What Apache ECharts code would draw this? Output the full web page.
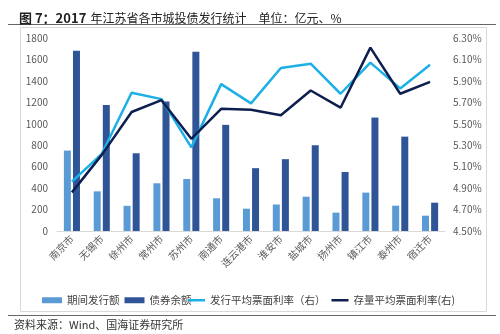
<!DOCTYPE html>
<html>
<head>
<meta charset="utf-8">
<script src="https://cdn.jsdelivr.net/npm/echarts@6/dist/echarts.min.js"></script>
<style>
  html, body { margin: 0; padding: 0; background: #fff; }
  #chart { width: 500px; height: 334px; }
</style>
</head>
<body>
<div id="chart"></div>
<script>
// 2017 江苏省各市城投债发行统计
const cities = ['南京市', '无锡市', '徐州市', '常州市', '苏州市', '南通市', '连云港市', '淮安市', '盐城市', '扬州市', '镇江市', '泰州市', '宿迁市'];
const issueAmount = [750, 370, 235, 445, 485, 305, 208, 247, 320, 171, 358, 236, 143];        // 期间发行额（亿元）
const outstanding = [1682, 1175, 725, 1208, 1672, 990, 586, 670, 800, 550, 1058, 880, 264];   // 债券余额（亿元）
const issueRate = [4.96, 5.22, 5.79, 5.73, 5.28, 5.87, 5.69, 6.02, 6.06, 5.78, 6.07, 5.83, 6.05];   // 发行平均票面利率（%）
const stockRate = [4.86, 5.21, 5.61, 5.72, 5.36, 5.64, 5.63, 5.58, 5.81, 5.65, 6.21, 5.78, 5.89];   // 存量平均票面利率（%）
const leftTicks = { min: 0, max: 1800, step: 200 };
const rightTicks = { min: 4.5, max: 6.3, step: 0.2 };

const FONT = '"Noto Sans CJK SC", "Noto Sans", sans-serif';
const LIGHT_BAR = '#5b9bd5', DARK_BAR = '#2f5597', LIGHT_LINE = '#1cb0e6', DARK_LINE = '#0e1f4f';
const chart = echarts.init(document.getElementById('chart'));

const legendText = { fontFamily: FONT, fontSize: 10.5, color: '#404040' };

chart.setOption({
  backgroundColor: '#fff',
  animation: false,
  textStyle: { fontFamily: FONT },
  title: {
    text: '{b|图 7：2017} {n|年江苏省各市城投债发行统计　单位：亿元、%}',
    left: 14, top: 4,
    textStyle: {
      rich: {
        b: { fontFamily: FONT, fontSize: 13, fontWeight: 'bold', color: '#222' },
        n: { fontFamily: FONT, fontSize: 12, fontWeight: 'normal', color: '#222' }
      }
    }
  },
  graphic: [
    { type: 'line', shape: { x1: 8, y1: 24.5, x2: 496, y2: 24.5 }, style: { stroke: '#666', lineWidth: 1 } },
    { type: 'rect', shape: { x: 20.5, y: 27.5, width: 466, height: 284 }, style: { fill: 'none', stroke: '#d9d9d9', lineWidth: 1 } },
    { type: 'line', shape: { x1: 8, y1: 315.5, x2: 496, y2: 315.5 }, style: { stroke: '#666', lineWidth: 1 } },
    { type: 'text', left: 14, top: 319, style: { text: '资料来源：Wind、国海证券研究所', font: '11px ' + FONT, fill: '#333' } }
  ],
  legend: [
    {
      left: 37, top: 290,
      itemWidth: 20, itemHeight: 6, itemGap: 5,
      textStyle: legendText,
      data: [
        { name: '期间发行额', icon: 'rect' },
        { name: '债券余额', icon: 'rect' }
      ]
    },
    {
      left: 183, top: 290,
      itemWidth: 17, itemHeight: 2.5, itemGap: 6,
      textStyle: legendText,
      data: [
        { name: '发行平均票面利率（右）', icon: 'rect', itemStyle: { color: LIGHT_LINE } },
        { name: '存量平均票面利率(右)', icon: 'rect', itemStyle: { color: DARK_LINE } }
      ]
    }
  ],
  grid: { left: 57, right: 55, top: 38, bottom: 103, containLabel: false },
  xAxis: {
    type: 'category',
    data: cities,
    axisLine: { lineStyle: { color: '#d9d9d9' } },
    axisTick: { show: false },
    axisLabel: { rotate: 45, fontSize: 10, color: '#595959', margin: 6, interval: 0, fontFamily: FONT }
  },
  yAxis: [
    {
      type: 'value', min: leftTicks.min, max: leftTicks.max, interval: leftTicks.step,
      splitLine: { show: false }, axisLine: { show: false }, axisTick: { show: false },
      axisLabel: { fontSize: 10, color: '#595959', margin: 9, formatter: v => String(v) }
    },
    {
      type: 'value', min: rightTicks.min, max: rightTicks.max, interval: rightTicks.step,
      splitLine: { show: false }, axisLine: { show: false }, axisTick: { show: false },
      axisLabel: { fontSize: 10, color: '#595959', margin: 8, formatter: v => v.toFixed(2) + '%' }
    }
  ],
  series: [
    { name: '期间发行额', type: 'bar', data: issueAmount, barWidth: 7, barGap: '30%', itemStyle: { color: LIGHT_BAR } },
    { name: '债券余额', type: 'bar', data: outstanding, barWidth: 7, itemStyle: { color: DARK_BAR } },
    { name: '发行平均票面利率（右）', type: 'line', yAxisIndex: 1, data: issueRate, symbol: 'none',
      lineStyle: { color: LIGHT_LINE, width: 2.5 }, itemStyle: { color: LIGHT_LINE } },
    { name: '存量平均票面利率(右)', type: 'line', yAxisIndex: 1, data: stockRate, symbol: 'none',
      lineStyle: { color: DARK_LINE, width: 2.5 }, itemStyle: { color: DARK_LINE } }
  ]
});
</script>
</body>
</html>
